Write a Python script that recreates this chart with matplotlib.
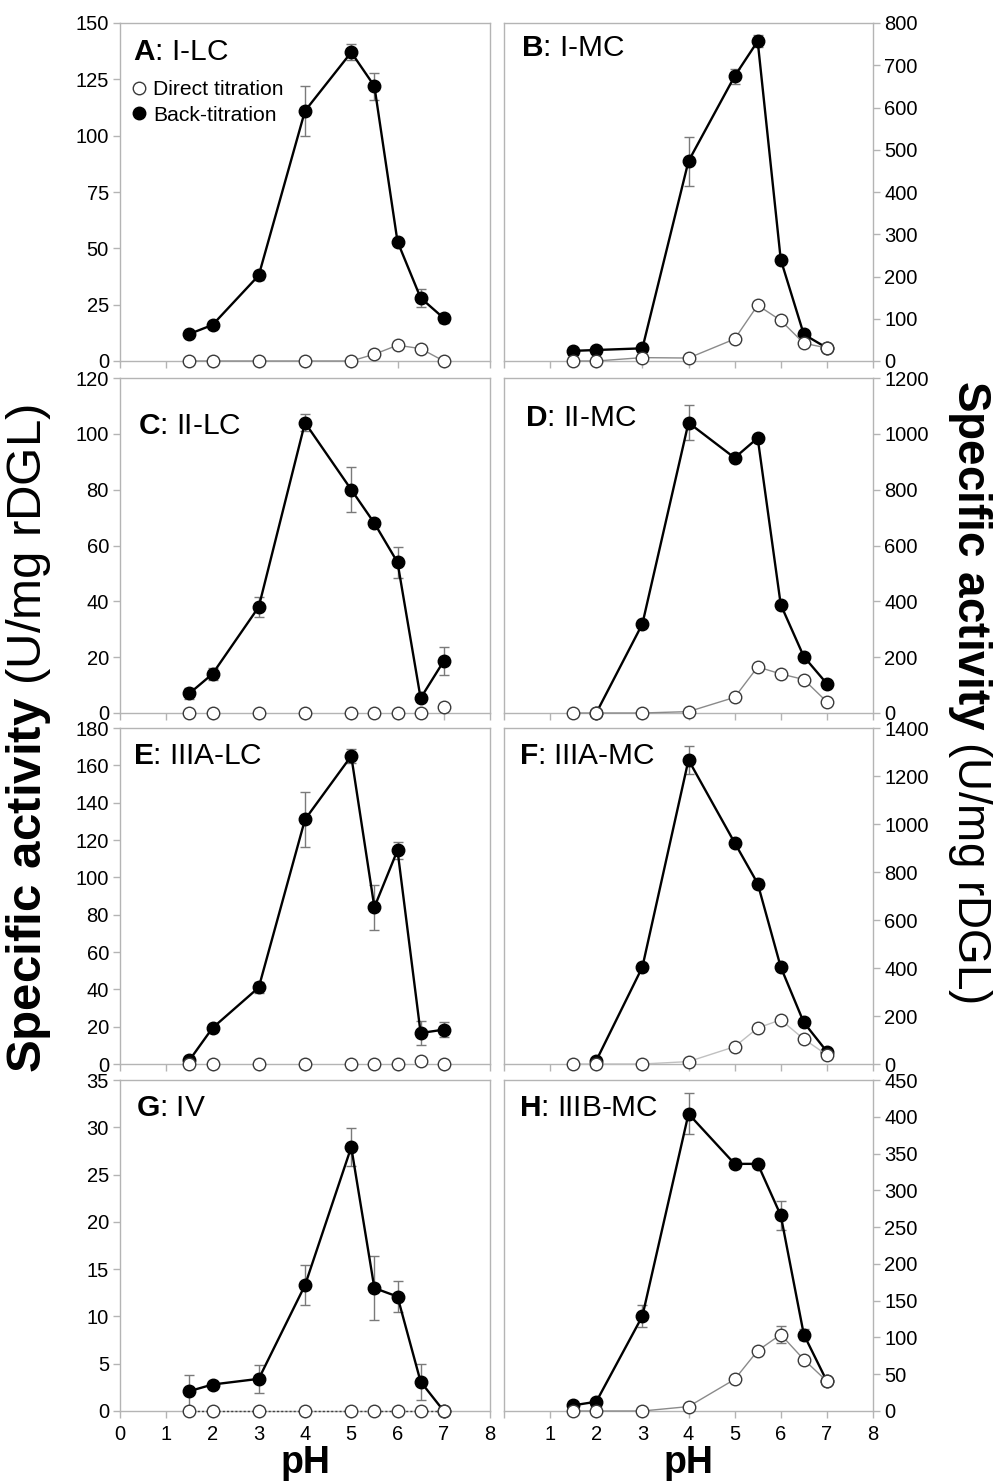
import numpy as np
import matplotlib
matplotlib.use("Agg")
import matplotlib.pyplot as plt
from matplotlib.lines import Line2D

plt.rcParams['font.family'] = ['Liberation Sans', 'DejaVu Sans']
plt.rcParams['mathtext.fontset'] = 'custom'
plt.rcParams['mathtext.rm'] = 'Liberation Sans'
plt.rcParams['mathtext.bf'] = 'Liberation Sans:bold'

# ---------------- data ----------------
ph = [1.5, 2, 3, 4, 5, 5.5, 6, 6.5, 7]

A_back = [12, 16, 38, 111, 137, 122, 53, 28, 19]
A_back_err = [1, 1.5, 2, 11, 3.5, 6, 1, 4, 2]
A_direct = [0, 0, 0, 0, 0, 3, 7, 5.5, 0]

B_back = [24, 26, 30, 473, 674, 757, 240, 63, 31]
B_back_err = [0, 0, 0, 58, 18, 14, 0, 0, 0]
B_direct = [0, 0, 8, 7, 52, 132, 96, 42, 31]

C_back = [7, 14, 38, 104, 80, 68, 54, 5.3, 18.6]
C_back_err = [2, 2, 3.5, 3, 8, 0, 5.5, 0, 5]
C_direct = [0, 0, 0, 0, 0, 0, 0, 0, 2]

D_back = [np.nan, 0, 319, 1040, 914, 985, 388, 202, 105]
D_back_err = [0, 0, 0, 63, 0, 0, 0, 0, 0]
D_direct = [0, 0, 0, 5, 56, 165, 140, 120, 40]

E_back = [2, 19.3, 41, 131, 165, 84, 114.5, 16.6, 18.4]
E_back_err = [0, 0, 3, 14.5, 3.5, 12, 4.5, 6.5, 4]
E_direct = [0, 0, 0, 0, 0, 0, 0, 1.8, 0]

F_back = [np.nan, 14, 404, 1267, 922, 752, 404, 173, 52]
F_back_err = [0, 0, 15, 60, 0, 18, 0, 0, 0]
F_direct = [0, 0, 0, 10, 72, 150, 184, 104, 38]

G_back = [2.1, 2.8, 3.4, 13.3, 27.9, 13.0, 12.1, 3.1, 0]
G_back_err = [1.7, 0.4, 1.5, 2.1, 2.0, 3.4, 1.6, 1.9, 0]
G_direct = [0, 0, 0, 0, 0, 0, 0, 0, 0]

H_back = [7.7, 12.6, 129, 404, 336, 336, 266, 104, 40.5]
H_back_err = [0, 0, 15, 28, 6, 0, 20, 7, 0]
H_direct = [0, 0, 0, 6, 43, 82, 104, 70, 40.5]
H_direct_err = [0, 0, 0, 0, 0, 0, 11, 0, 0]

panel_letters = ['A', 'B', 'C', 'D', 'E', 'F', 'G', 'H']
panel_names = ['I-LC', 'I-MC', 'II-LC', 'II-MC', 'IIIA-LC', 'IIIA-MC', 'IV', 'IIIB-MC']
y_max = [150, 800, 120, 1200, 180, 1400, 35, 450]
y_step = [25, 100, 20, 200, 20, 200, 5, 50]
x_ticks = [0, 1, 2, 3, 4, 5, 6, 7, 8]
x_ticklabels_left = ['0', '1', '2', '3', '4', '5', '6', '7', '8']
x_ticklabels_right = ['', '1', '2', '3', '4', '5', '6', '7', '8']

# ---------------- layout ----------------
W, H = 993, 1481
fig = plt.figure(figsize=(W / 100, H / 100), dpi=100)

col_x = [(120, 490), (504, 873)]
row_y = [(23, 361), (378, 713), (728, 1064), (1080, 1411)]

SPINE = '#b4b4b4'
ERR = '#7a7a7a'

panels = [
    (A_back, A_back_err, A_direct, None, dict(ls='-', color='#8a8a8a', lw=1.0)),
    (B_back, B_back_err, B_direct, None, dict(ls='-', color='#8a8a8a', lw=1.0)),
    (C_back, C_back_err, C_direct, None, dict(ls='none', color='#8a8a8a', lw=1.0)),
    (D_back, D_back_err, D_direct, None, dict(ls='-', color='#8a8a8a', lw=1.0)),
    (E_back, E_back_err, E_direct, None, dict(ls='none', color='#8a8a8a', lw=1.0)),
    (F_back, F_back_err, F_direct, None, dict(ls='-', color='#c0c0c0', lw=1.0)),
    (G_back, G_back_err, G_direct, None, dict(ls=(0, (1.5, 1.5)), color='#404040', lw=1.0)),
    (H_back, H_back_err, H_direct, H_direct_err, dict(ls='-', color='#8a8a8a', lw=1.0)),
]

title_pos = [(0.035, 0.915), (0.045, 0.925), (0.05, 0.857), (0.058, 0.882),
             (0.035, 0.918), (0.04, 0.918), (0.042, 0.916), (0.04, 0.916)]


def nan_zero(a):
    a = np.asarray(a, dtype=float)
    return np.where(a == 0, np.nan, a)


MS = 9
axes = []
for i in range(8):
    r, c = divmod(i, 2)
    x0, x1 = col_x[c]
    y0, y1 = row_y[r]
    ax = fig.add_axes([x0 / W, 1 - y1 / H, (x1 - x0) / W, (y1 - y0) / H])
    axes.append(ax)
    back, back_err, direct, direct_err, dstyle = panels[i]

    # error bars (behind)
    ax.errorbar(ph, back, yerr=nan_zero(back_err), fmt='none', ecolor=ERR,
                elinewidth=1.0, capsize=3.5, capthick=1.0, zorder=2)
    if direct_err is not None:
        ax.errorbar(ph, direct, yerr=nan_zero(direct_err), fmt='none', ecolor=ERR,
                    elinewidth=1.0, capsize=3.5, capthick=1.0, zorder=2)
    # back-titration
    ax.plot(ph, back, '-o', color='black', lw=1.7, ms=MS, mfc='black',
            mec='black', zorder=3, clip_on=False)
    # direct titration
    ax.plot(ph, direct, marker='o', ms=MS, mfc='white', mec='#3a3a3a', mew=1.0,
            zorder=4, clip_on=False, **dstyle)

    ax.set_xlim(0, 8)
    ax.set_ylim(0, y_max[i])
    ax.set_xticks(x_ticks)
    ax.set_yticks(np.arange(0, y_max[i] + 0.1, y_step[i]))
    for sp in ax.spines.values():
        sp.set_color(SPINE)
        sp.set_linewidth(1.0)
    ax.tick_params(direction='out', length=5, width=1, color=SPINE,
                   labelsize=14.5, labelcolor='black', pad=3)
    if c == 1:
        ax.yaxis.tick_right()
    if r < 3:
        ax.tick_params(labelbottom=False)
    else:
        ax.set_xticklabels(x_ticklabels_left if c == 0 else x_ticklabels_right)
        ax.tick_params(axis='x', pad=5)
        ax.set_xlabel('pH', fontsize=27, fontweight='bold', labelpad=1)

    tx, ty = title_pos[i]
    ax.text(tx, ty, r'$\bf{' + panel_letters[i] + '}$: ' + panel_names[i],
            transform=ax.transAxes, fontsize=21.5, ha='left', va='center')

# legend in panel A
handles = [
    Line2D([], [], ls='none', marker='o', ms=MS, mfc='white', mec='#3a3a3a', mew=1.0),
    Line2D([], [], ls='none', marker='o', ms=MS, mfc='black', mec='black'),
]
axes[0].legend(handles, ['Direct titration', 'Back-titration'], loc='upper left',
               bbox_to_anchor=(0.016, 0.843), frameon=False, fontsize=15.2,
               handlelength=0.8, handletextpad=0.3, labelspacing=0.3,
               borderaxespad=0.0, borderpad=0.2)

# y labels
label = r'$\bf{Specific\ activity}$ (U/mg rDGL)'
fig.text(29 / W, 1 - 738 / H, label, rotation=90, fontsize=35.5,
         ha='center', va='center')
fig.text(970 / W, 1 - 692 / H, label, rotation=270, fontsize=33,
         ha='center', va='center')

fig.savefig('out.png', dpi=100, facecolor='white')
